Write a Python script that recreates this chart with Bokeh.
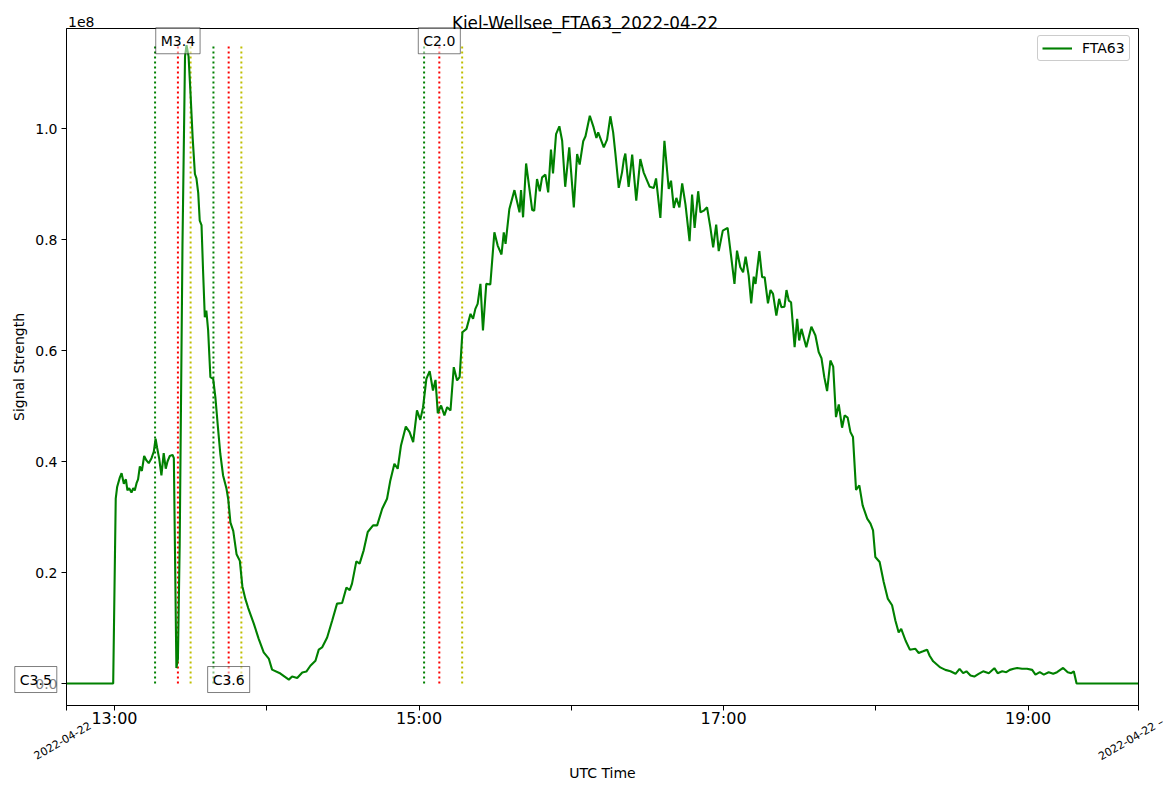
import math
import pandas as pd
from bokeh.plotting import figure
from bokeh.models import (Range1d, FixedTicker, DatetimeTickFormatter, DatetimeAxis,
                          LinearAxis, CustomJSTickFormatter, Label, ColumnDataSource,
                          BoxAnnotation)
from bokeh.embed import file_html
from bokeh.resources import INLINE

# ---------------- data ----------------
DATE = "2022-04-22"
STATION = "Kiel-Wellsee"
TRANSMITTER = "FTA63"

# minutes after 13:00 UTC
minutes_after_1300 = [
    -18.9, -0.5, 0.5, 1.05, 2.1, 2.8, 3.7, 4.5, 5.1, 5.8, 6.7, 7.4, 8.0, 8.7, 9.3,
    10.0, 10.8, 11.7, 12.6, 13.5, 14.6, 15.5, 16.2, 16.8, 17.6, 18.5, 19.4, 20.2,
    20.9, 21.8, 22.9, 23.4, 24.4, 25.0, 25.7, 26.8, 27.8, 28.4, 29.2, 30.0, 30.8,
    31.7, 32.3, 33.0, 33.6, 34.3, 34.9, 35.6, 36.2, 36.9, 37.8, 38.9, 39.8, 40.8,
    41.7, 42.8, 44.1, 44.8, 45.7, 46.8, 48.1, 49.4, 50.4, 51.6, 52.7,
    54.9, 56.8, 58.8, 60.8, 62.1, 65.4, 68.7, 70.0, 72.0, 74.0, 75.6, 77.2, 79.2,
    80.5, 81.8, 83.8, 85.8, 87.7, 89.7, 91.4, 92.7, 93.6, 95.3, 96.6, 98.2, 99.8,
    101.9, 103.5, 105.5, 107.4, 108.7, 110.3, 111.6, 112.9, 114.8, 116.3, 117.7,
    119.2, 120.5, 121.6, 122.9, 124.2, 125.5, 126.5, 127.4, 128.7, 130.0, 131.1,
    132.4, 133.7, 135.0, 136.0, 137.1, 138.7, 140.3, 141.3, 142.2, 143.1, 144.2,
    145.2, 146.5, 148.1,
    149.7, 151.0, 152.5, 153.4, 154.1, 155.6, 157.6, 159.6, 160.2, 161.0, 162.2,
    164.6, 165.4, 166.5, 167.6, 168.5, 169.8, 170.9, 172.0, 172.8, 174.0, 175.3,
    176.4, 177.6, 179.2, 181.0, 182.3, 183.3, 184.7, 185.6, 187.3, 188.8, 189.9,
    190.6, 192.8, 194.1, 195.4, 196.5, 197.4, 198.7, 200.0, 200.7, 201.3, 202.6,
    204.0, 205.6, 207.2, 208.5, 210.9, 212.5, 213.4, 215.1, 216.7, 218.4, 219.3,
    220.4, 221.4, 222.6, 223.7, 225.0, 226.6, 227.6, 228.6, 230.0, 230.9, 232.2,
    233.5, 234.8, 235.9, 237.1, 238.1, 239.7, 241.6, 243.0, 244.3, 245.3,
    246.6, 247.7, 248.7, 249.9, 250.9, 251.9, 252.6, 254.1, 255.2, 256.2, 257.5,
    258.5, 259.5, 260.8, 261.9, 262.8, 264.0, 264.8, 265.7, 266.6, 268.0, 269.0,
    269.8, 270.7, 272.6, 274.6, 276.2, 277.5, 278.6, 279.7, 280.8, 282.1, 283.2,
    284.3, 285.4, 286.7, 287.7, 288.9, 290.0, 291.0, 292.2, 293.5, 294.8, 296.6,
    297.9, 298.9,
    299.8, 301.5, 303.1, 304.7, 306.4, 307.7, 309.0, 310.0, 311.7, 313.4, 315.6,
    316.9, 318.6, 320.2, 321.2, 322.6, 325.4, 327.4, 329.4, 331.4, 333.0, 334.4,
    335.7, 337.3, 338.8, 340.5, 342.3, 344.5, 346.7, 348.0, 349.8, 351.4, 352.8,
    354.3, 355.7, 357.6, 359.6, 361.6, 362.9, 364.6, 366.2, 368.1, 369.9, 371.4,
    373.8, 375.6, 377.0, 378.0, 379.1, 403.5,
]

# signal strength in units of 1e8
signal_1e8 = [
    0.0, 0.0, 0.333, 0.354, 0.371, 0.379, 0.360, 0.368, 0.348, 0.352, 0.344, 0.352,
    0.348, 0.361, 0.368, 0.391, 0.383, 0.410, 0.402, 0.397, 0.406, 0.418, 0.441,
    0.425, 0.406, 0.375, 0.415, 0.387, 0.400, 0.410, 0.412, 0.406, 0.028, 0.044,
    0.250, 0.790, 1.130, 1.150, 1.130, 1.060, 0.984, 0.918, 0.910, 0.884, 0.834,
    0.826, 0.745, 0.660, 0.672, 0.637, 0.552, 0.549, 0.514, 0.460, 0.414, 0.375,
    0.352, 0.333, 0.290, 0.275, 0.233, 0.221, 0.175, 0.152, 0.136,
    0.108, 0.081, 0.056, 0.045, 0.025, 0.018, 0.007, 0.0126, 0.010, 0.020, 0.0216,
    0.032, 0.041, 0.061, 0.065, 0.083, 0.1135, 0.144, 0.145, 0.173, 0.168, 0.180,
    0.220, 0.216, 0.240, 0.273, 0.285, 0.285, 0.315, 0.333, 0.366, 0.396, 0.387,
    0.429, 0.463, 0.453, 0.435, 0.492, 0.475, 0.498, 0.549, 0.563, 0.528, 0.547,
    0.487, 0.501, 0.483, 0.498, 0.492, 0.570, 0.546, 0.552, 0.633, 0.639, 0.666,
    0.657, 0.675, 0.684, 0.720, 0.636, 0.720, 0.719,
    0.813, 0.789, 0.773, 0.813, 0.792, 0.855, 0.889, 0.849, 0.889, 0.840, 0.937,
    0.853, 0.852, 0.909, 0.887, 0.912, 0.917, 0.885, 0.962, 0.919, 0.990, 1.004,
    0.978, 0.895, 0.966, 0.858, 0.954, 0.935, 0.977, 0.986, 1.023, 1.002, 0.983,
    0.993, 0.966, 0.980, 1.022, 0.993, 0.954, 0.893, 0.921, 0.944, 0.955, 0.895,
    0.953, 0.870, 0.945, 0.921, 0.895, 0.893, 0.910, 0.839, 0.978, 0.891, 0.906,
    0.857, 0.875, 0.858, 0.901, 0.863, 0.797, 0.881, 0.821, 0.887, 0.849, 0.852,
    0.858, 0.822, 0.786, 0.827, 0.779, 0.816, 0.821, 0.769, 0.720, 0.780,
    0.750, 0.741, 0.769, 0.735, 0.685, 0.733, 0.720, 0.779, 0.732, 0.732, 0.685,
    0.709, 0.702, 0.663, 0.693, 0.678, 0.679, 0.709, 0.690, 0.687, 0.606, 0.657,
    0.618, 0.639, 0.606, 0.643, 0.627, 0.597, 0.586, 0.552, 0.527, 0.582, 0.571,
    0.480, 0.503, 0.461, 0.483, 0.479, 0.453, 0.444, 0.349, 0.357, 0.321, 0.297,
    0.288, 0.276,
    0.228, 0.219, 0.183, 0.153, 0.141, 0.1135, 0.092, 0.0985, 0.0775, 0.061, 0.0625,
    0.055, 0.058, 0.061, 0.050, 0.040, 0.029, 0.0246, 0.022, 0.0175, 0.0265, 0.0186,
    0.022, 0.0144, 0.0126, 0.0175, 0.022, 0.0186, 0.0276, 0.0186, 0.022, 0.0204,
    0.0246, 0.0265, 0.028, 0.0265, 0.0265, 0.0246, 0.016, 0.0204, 0.016, 0.0204,
    0.0175, 0.0204, 0.028, 0.0204, 0.0186, 0.022, 0.0, 0.0,
]

flare_classes = ["C3.5", "M3.4", "C3.6", "C2.0"]
flare_start = ["12:22", "13:16", "13:39", "15:02"]
flare_peak = ["12:29", "13:25", "13:45", "15:08"]
flare_end = ["12:36", "13:30", "13:50", "15:17"]

x_limits = ["12:41:06", "19:43:30"]
y_limits_1e8 = [-0.0396, 1.1802]
y_ticks_1e8 = [0.0, 0.2, 0.4, 0.6, 0.8, 1.0]
x_major_ticks = ["13:00", "15:00", "17:00", "19:00"]
x_minor_ticks = ["14:00", "16:00", "18:00"]

# ---------------- layout (pixels) ----------------
W, H = 1169, 790                     # canvas
PL, PR, PT, PB = 66, 1138, 28, 705   # plot-area box inside the canvas
FONT = "DejaVu Sans"

BASE = pd.Timestamp(f"{DATE} 13:00")


def ms(hhmm):
    return pd.Timestamp(f"{DATE} {hhmm}").value / 1e6


def ms_from_min(m):
    return (BASE + pd.Timedelta(minutes=m)).value / 1e6


x0, x1 = ms(x_limits[0]), ms(x_limits[1])
ylo, yhi = y_limits_1e8[0] * 1e8, y_limits_1e8[1] * 1e8
kx = (x1 - x0) / (PR - PL)
ky = (yhi - ylo) / (PB - PT)


def px(xp):   # canvas pixel -> data x
    return x0 + (xp - PL) * kx


def py(yp):   # canvas pixel -> data y
    return ylo + (PB - yp) * ky


times = [ms_from_min(m) for m in minutes_after_1300]
signal = [v * 1e8 for v in signal_1e8]
ymax = max(signal)
src = ColumnDataSource(dict(t=times, s=signal))

p = figure(frame_width=W, frame_height=H,
           min_border_left=0, min_border_top=0, min_border_right=0, min_border_bottom=0,
           x_axis_location=None, y_axis_location=None, x_axis_type="datetime",
           output_backend="svg", toolbar_location=None,
           x_range=Range1d(px(0), px(W)), y_range=Range1d(py(H), py(0)))
p.background_fill_color = "white"
p.border_fill_color = "white"
p.outline_line_color = None
p.xgrid.visible = False
p.ygrid.visible = False

# flare vertical lines (start / peak / end), only inside the time window
for tl, color in ((flare_start, "#008000"), (flare_peak, "#ff0000"), (flare_end, "#bfbf00")):
    xs = [ms(s) for s in tl if x0 <= ms(s) <= x1]
    p.segment(x0=xs, y0=[0] * len(xs), x1=xs, y1=[ymax] * len(xs),
              line_color=color, line_width=2, line_dash="2 3")

p.line("t", "s", source=src, line_color="#008000", line_width=2.1,
       legend_label=TRANSMITTER)

# plot-area box (spines)
p.add_layout(BoxAnnotation(left=x0, right=x1, bottom=ylo, top=yhi,
                           fill_alpha=0, line_color="black", line_alpha=1,
                           line_width=1))


def style_axis(ax, tick_font):
    ax.axis_label_text_font = FONT
    ax.axis_label_text_font_size = "14px"
    ax.axis_label_text_font_style = "normal"
    ax.axis_label_text_color = "black"
    ax.major_label_text_font = FONT
    ax.major_label_text_font_size = tick_font
    ax.major_label_text_color = "black"
    ax.major_tick_out = 5
    ax.major_tick_in = 0
    ax.minor_tick_out = 5
    ax.minor_tick_in = 0
    ax.major_tick_line_color = "black"
    ax.minor_tick_line_color = "black"
    ax.axis_line_color = "black"


# axes at the edges of the plot area
xa = DatetimeAxis(fixed_location=ylo, bounds=(x0, x1))
xa.ticker = FixedTicker(ticks=[ms(t) for t in x_major_ticks],
                        minor_ticks=[ms(t) for t in x_minor_ticks] + [x0, x1])
xa.formatter = DatetimeTickFormatter(hours="%H:%M", hourmin="%H:%M", minutes="%H:%M",
                                     days="%H:%M", minsec="%H:%M")
xa.axis_label = "UTC Time"
style_axis(xa, "16px")
xa.axis_label_standoff = 34
xa.major_label_standoff = -2
p.add_layout(xa, "below")

ya = LinearAxis(fixed_location=x0, bounds=(ylo, yhi))
ya.ticker = FixedTicker(ticks=[v * 1e8 for v in y_ticks_1e8], minor_ticks=[])
ya.formatter = CustomJSTickFormatter(code="return (tick/1e8).toFixed(1);")
ya.axis_label = "Signal Strength"
style_axis(ya, "14px")
ya.axis_label_standoff = 5
ya.major_label_standoff = 4
p.add_layout(ya, "left")

LABEL_STYLE = dict(text_align="center", text_baseline="middle",
                   text_font=FONT, text_font_size="14px", text_color="black",
                   background_fill_color="white", background_fill_alpha=0.5,
                   border_line_color="black", border_line_alpha=0.5,
                   border_line_width=1, padding=5)

# flare labels (alternating bottom / top)
for i, (cls, pk) in enumerate(zip(flare_classes, flare_peak)):
    top = (i % 2 == 1)
    p.add_layout(Label(x=ms(pk), y=ymax if top else 0, text=cls,
                       y_offset=4.5 if top else 4, **LABEL_STYLE))

# legend
lg = p.legend[0]
lg.location = (1037, H - 61)
lg.margin = 0
lg.padding = 4
lg.spacing = 0
lg.glyph_width = 30
lg.glyph_height = 16
lg.label_standoff = 10
lg.label_text_font = FONT
lg.label_text_font_size = "14px"
lg.label_text_color = "black"
lg.label_height = 16
lg.border_line_color = "#cccccc"
lg.border_line_alpha = 1.0
lg.border_radius = 3
lg.background_fill_alpha = 0.8

# figure title, offset text, date labels
TXT = dict(text_font=FONT, text_color="black")
p.add_layout(Label(x=px(584.5), y=py(22.5), text=f"{STATION}_{TRANSMITTER}_{DATE}",
                   text_align="center", text_baseline="alphabetic",
                   text_font_size="16.8px", **TXT))
p.add_layout(Label(x=px(67.5), y=py(21), text="1e8", text_align="left",
                   text_baseline="alphabetic", text_font_size="14px", **TXT))
p.add_layout(Label(x=px(62), y=py(740), text=DATE, angle=math.pi / 6,
                   text_align="center", text_baseline="alphabetic",
                   text_font_size="11px", **TXT))
p.add_layout(Label(x=px(1099), y=py(757), text=f"{DATE} \u2013", angle=math.pi / 6,
                   text_align="left", text_baseline="alphabetic",
                   text_font_size="11px", **TXT))

with open("out.html", "w") as f:
    f.write(file_html(p, INLINE))
